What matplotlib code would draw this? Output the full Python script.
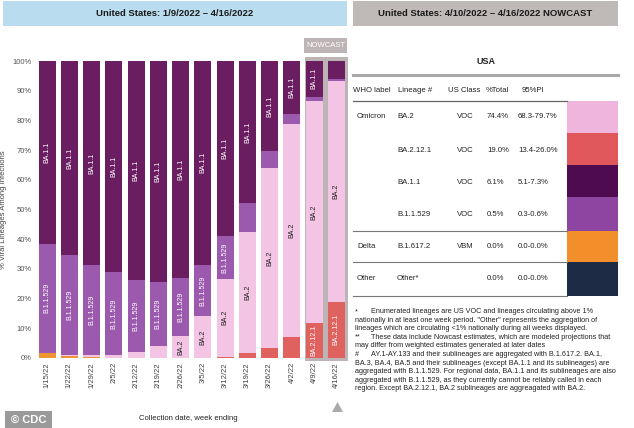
import matplotlib
matplotlib.use('Agg')
import matplotlib.pyplot as plt
from matplotlib.patches import Rectangle, Polygon
import numpy as np

plt.rcParams['font.family'] = ['Liberation Sans', 'DejaVu Sans']

# Weekly lineage shares (%), bottom to top of each bar
weeks = ['1/15/22', '1/22/22', '1/29/22', '2/5/22', '2/12/22', '2/19/22', '2/26/22',
         '3/5/22', '3/12/22', '3/19/22', '3/26/22', '4/2/22', '4/9/22', '4/16/22']
delta = [1.6, 0.7, 0.3, 0.1, 0.1, 0.0, 0.0, 0.0, 0.0, 0.0, 0.0, 0.0, 0.0, 0.0]
ba2121 = [0.0, 0.0, 0.0, 0.0, 0.0, 0.0, 0.0, 0.1, 0.4, 1.6, 3.5, 7.0, 11.7, 19.0]
ba2 = [0.2, 0.4, 0.6, 0.9, 1.8, 3.9, 7.4, 13.9, 26.3, 40.7, 60.4, 71.7, 74.9, 74.4]
b11529 = [36.7, 33.6, 30.4, 27.9, 24.4, 21.7, 19.6, 17.4, 14.3, 9.9, 5.8, 3.4, 1.4, 0.5]
ba11 = [61.5, 65.3, 68.7, 71.1, 73.7, 74.4, 73.0, 68.6, 59.0, 47.8, 30.3, 17.9, 12.0, 6.1]

series = [('B.1.617.2', delta, '#ee9433', 'white', 99),
          ('BA.2.12.1', ba2121, '#e0625f', 'white', 10),
          ('BA.2', ba2, '#f3c4e4', '#222222', 6),
          ('B.1.1.529', b11529, '#9b5aae', 'white', 12),
          ('BA.1.1', ba11, '#6b1d61', 'white', 9)]

# Nowcast table
who_col = ['Omicron', '', '', '', 'Delta', 'Other']
lineage_col = ['BA.2', 'BA.2.12.1', 'BA.1.1', 'B.1.1.529', 'B.1.617.2', 'Other*']
class_col = ['VOC', 'VOC', 'VOC', 'VOC', 'VBM', '']
total_col = ['74.4%', '19.0%', '6.1%', '0.5%', '0.0%', '0.0%']
pi_col = ['68.3-79.7%', '13.4-26.0%', '5.1-7.3%', '0.3-0.6%', '0.0-0.0%', '0.0-0.0%']
swatch_colors = ['#f0b5dc', '#e0585b', '#4e0b50', '#8e45a1', '#f28f2b', '#1d2b45']

notes = [
    ('*', 'Enumerated lineages are US VOC and lineages circulating above 1%'),
    ('', 'nationally in at least one week period. "Other" represents the aggregation of'),
    ('', 'lineages which are circulating <1% nationally during all weeks displayed.'),
    ('**', 'These data include Nowcast estimates, which are modeled projections that'),
    ('', 'may differ from weighted estimates generated at later dates'),
    ('#', 'AY.1-AY.133 and their sublineages are aggregated with B.1.617.2. BA.1,'),
    ('', 'BA.3, BA.4, BA.5 and their sublineages (except BA.1.1 and its sublineages) are'),
    ('', 'aggregated with B.1.1.529. For regional data, BA.1.1 and its sublineages are also'),
    ('', 'aggregated with B.1.1.529, as they currently cannot be reliably called in each'),
    ('', 'region. Except BA.2.12.1, BA.2 sublineages are aggreagated with BA.2.'),
]

W, H = 634, 428
fig = plt.figure(figsize=(W / 100, H / 100), dpi=100)


def fx(x):
    return x / W


def fy(y):
    return 1 - y / H


def box(x0, y0, x1, y1, color, **kw):
    fig.add_artist(Rectangle((fx(x0), fy(y1)), fx(x1) - fx(x0), fy(y0) - fy(y1),
                             transform=fig.transFigure, facecolor=color,
                             edgecolor='none', **kw))


def hline(x0, x1, y, color, lw):
    fig.add_artist(plt.Line2D([fx(x0), fx(x1)], [fy(y), fy(y)], transform=fig.transFigure,
                              color=color, lw=lw))


# Title bars
box(3, 1, 347, 26, '#b9dcee')
fig.text(fx(175), fy(14), 'United States: 1/9/2022 \u2013 4/16/2022', ha='center', va='center',
         fontsize=6.8, fontweight='bold', color='#1a1a1a')
box(353, 1, 618, 26, '#bfb9b7')
fig.text(fx(485), fy(14), 'United States: 4/10/2022 \u2013 4/16/2022 NOWCAST', ha='center',
         va='center', fontsize=6.8, fontweight='bold', color='#1a1a1a')

# Bar chart
ax = fig.add_axes([fx(36), fy(358), fx(347.5) - fx(36), fy(61) - fy(358)])
x = np.arange(len(weeks))
ax.set_xlim(-0.5, len(weeks) - 0.5)
ax.set_ylim(0, 100)

# nowcast band
ax.add_patch(Rectangle((11.6, -1), 1.9, 102.5, facecolor='#bdb5b5', edgecolor='none',
                       clip_on=False, zorder=0))

bottom = np.zeros(len(weeks))
for name, vals, color, tcolor, minsize in series:
    vals = np.array(vals)
    bars = ax.bar(x, vals, 0.76, bottom=bottom, color=color, zorder=2)
    for i, b in enumerate(bars):
        if vals[i] >= minsize:
            t = ax.text(x[i], bottom[i] + vals[i] / 2, name, rotation=90, ha='center',
                        va='center', fontsize=5, color=tcolor, zorder=3)
            t.set_clip_path(b)
    bottom += vals

for s in ax.spines.values():
    s.set_visible(False)
ax.set_yticks(range(0, 101, 10))
ax.set_yticklabels([f'{v}%' for v in range(0, 101, 10)], fontsize=5.5, color='#555555')
ax.set_xticks(x)
ax.set_xticklabels(weeks, rotation=90, fontsize=5.5, color='#444444')
ax.tick_params(length=0, pad=3)
ax.set_ylabel('% Viral Lineages Among Infections', fontsize=5.5, color='#444444', labelpad=4)

# NOWCAST tag and marker
box(304, 38, 347, 53, '#bdb5b5')
fig.text(fx(325.5), fy(45.5), 'NOWCAST', ha='center', va='center', fontsize=5.5, color='white')
fig.add_artist(Polygon([[fx(332), fy(412)], [fx(343), fy(412)], [fx(337.5), fy(402)]],
                       closed=True, transform=fig.transFigure, facecolor='#aaaaaa',
                       edgecolor='none'))

fig.text(fx(188), fy(418), 'Collection date, week ending', ha='center', va='center',
         fontsize=5.5, color='#222222')

# CDC badge
box(5, 411, 52, 428, '#9a9a9a')
fig.text(fx(28.5), fy(419.5), '\u00a9 CDC', ha='center', va='center', fontsize=8,
         fontweight='bold', color='white')

# Nowcast table
fig.text(fx(486), fy(62), 'USA', ha='center', va='center', fontsize=6.5, fontweight='bold',
         color='#222222')
hline(353, 618, 75, '#a9a9a9', 2.2)
hdr_y = 91
for txt, xx in [('WHO label', 353), ('Lineage #', 398), ('US Class', 448),
                ('%Total', 486), ('95%PI', 522)]:
    fig.text(fx(xx), fy(hdr_y), txt, ha='left', va='center', fontsize=5.6, color='#222222')
hline(353, 567, 101, '#666666', 0.9)

row_tops = [101, 133, 165, 197, 231, 262, 296]
row_text_y = [117, 150, 182, 214, 246, 279]
for i in range(len(lineage_col)):
    yy = row_text_y[i]
    fig.text(fx(357), fy(yy), who_col[i], ha='left', va='center', fontsize=5.6, color='#222222')
    fig.text(fx(397), fy(yy), lineage_col[i], ha='left', va='center', fontsize=5.6,
             color='#222222')
    fig.text(fx(457), fy(yy), class_col[i], ha='left', va='center', fontsize=5.6,
             color='#222222')
    fig.text(fx(487), fy(yy), total_col[i], ha='left', va='center', fontsize=5.6,
             color='#222222')
    fig.text(fx(518), fy(yy), pi_col[i], ha='left', va='center', fontsize=5.6, color='#222222')
    box(567, row_tops[i], 618, row_tops[i + 1], swatch_colors[i])
for yy in [231, 262, 296]:
    hline(353, 567, yy, '#777777', 0.8)

# Footnotes
ny = 311.5
for mark, line in notes:
    if mark:
        fig.text(fx(355), fy(ny), mark, ha='left', va='center', fontsize=5.2, color='#222222')
        fig.text(fx(371), fy(ny), line, ha='left', va='center', fontsize=5.2, color='#222222')
    else:
        fig.text(fx(355), fy(ny), line, ha='left', va='center', fontsize=5.2, color='#222222')
    ny += 8.6

fig.savefig('out.png', dpi=100)
